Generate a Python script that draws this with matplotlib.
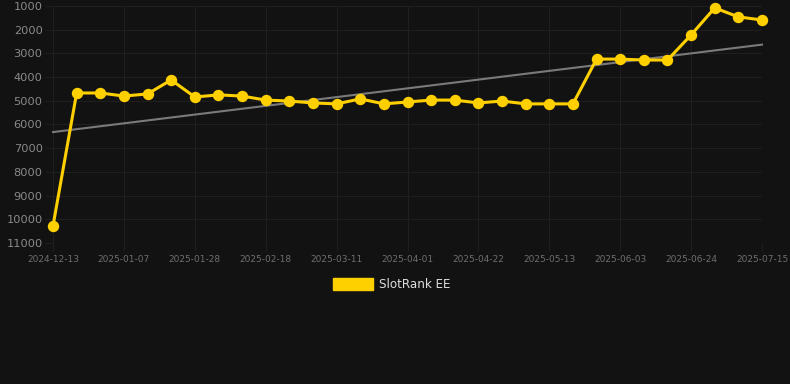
import matplotlib
matplotlib.use("Agg")
import matplotlib.pyplot as plt
from matplotlib.patches import Rectangle

# ---- data ----
dates = ["2024-12-13", "", "", "2025-01-07", "", "", "2025-01-28", "", "",
         "2025-02-18", "", "", "2025-03-11", "", "", "2025-04-01", "", "",
         "2025-04-22", "", "", "2025-05-13", "", "", "2025-06-03", "", "",
         "2025-06-24", "", "", "2025-07-15"]
ranks = [10280, 4670, 4670, 4800, 4710, 4120, 4840, 4750, 4800, 4970,
         5010, 5090, 5130, 4920, 5130, 5050, 4970, 4970, 5090, 5010,
         5130, 5130, 5130, 3240, 3240, 3280, 3280, 2220, 1080, 1460, 1590]
trend_ends = [6320, 2630]
y_ticks = [1000, 2000, 3000, 4000, 5000, 6000, 7000, 8000, 9000, 10000, 11000]
series_name = "SlotRank EE"

BG = "#121212"
GRID = "#1f1f1f"
GOLD = "#FFD000"

fig = plt.figure(figsize=(7.9, 3.84), dpi=100, facecolor=BG)
ax = fig.add_axes([53/790, 1 - 243/384, (762 - 53)/790, (243 - 6)/384])
ax.set_facecolor(BG)

x = list(range(len(ranks)))
ax.plot([x[0], x[-1]], trend_ends, color="#7a7a7a", lw=1.5, zorder=2, clip_on=False)
ax.plot(x, ranks, color=GOLD, lw=2.2, marker="o", markersize=7.2,
        markerfacecolor=GOLD, markeredgecolor=GOLD, zorder=3, clip_on=False)

ax.set_xlim(0, len(ranks) - 1)
ax.set_ylim(11000, 1000)
ax.set_yticks(y_ticks)
ax.set_yticklabels([str(v) for v in y_ticks])
tick_idx = [i for i, d in enumerate(dates) if d]
ax.set_xticks(tick_idx)
ax.set_xticklabels([dates[i] for i in tick_idx])

ax.grid(True, color=GRID, lw=0.8, zorder=0)
for s in ax.spines.values():
    s.set_visible(False)
ax.tick_params(axis="y", length=6, color=GRID, pad=1.5, labelsize=8.2, labelcolor="#8a8a8a")
ax.tick_params(axis="x", length=6, color=GRID, pad=2.5, labelsize=6.5, labelcolor="#6e6e6e")

# legend
fig.patches.append(Rectangle((333/790, 1 - 290/384), 40/790, 12/384,
                             transform=fig.transFigure, color=GOLD, zorder=5))
fig.text(379/790, 1 - 284.5/384, series_name, color="#dddddd", fontsize=8.6,
         va="center", ha="left")

fig.savefig("out.png", dpi=100, facecolor=BG)
